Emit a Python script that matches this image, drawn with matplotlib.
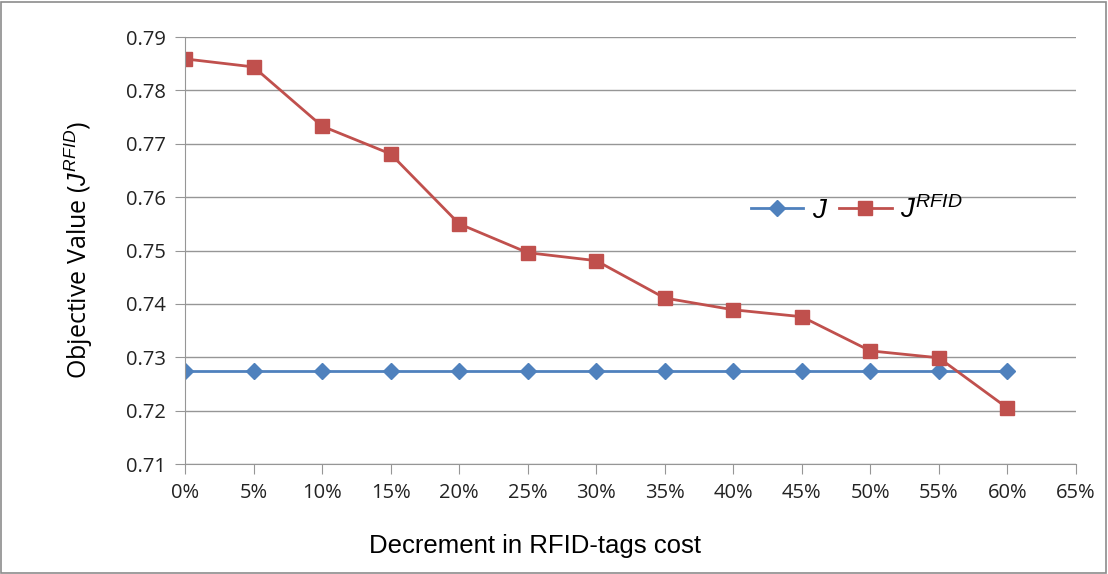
import matplotlib
matplotlib.use("Agg")
import matplotlib.pyplot as plt
from matplotlib.patches import Rectangle
from matplotlib.ticker import FuncFormatter

plt.rcParams["mathtext.fontset"] = "custom"
plt.rcParams["mathtext.it"] = "Liberation Sans:italic"
plt.rcParams["mathtext.rm"] = "Liberation Sans"

decrement = [0, 5, 10, 15, 20, 25, 30, 35, 40, 45, 50, 55, 60]
j_base = [0.7275] * 13
j_rfid = [0.7859, 0.7844, 0.7733, 0.7681, 0.7550, 0.7496, 0.7481,
          0.7411, 0.7389, 0.7376, 0.7312, 0.7299, 0.7205]

x_ticks = list(range(0, 70, 5))
y_ticks = [0.71, 0.72, 0.73, 0.74, 0.75, 0.76, 0.77, 0.78, 0.79]

fig = plt.figure(figsize=(11.08, 5.74), dpi=100)
ax = fig.add_axes([0.167, 0.1916, 0.804, 0.7439])

ax.plot(decrement, j_base, color="#4F81BD", lw=2, marker="D", ms=8,
        label="$J$")
ax.plot(decrement, j_rfid, color="#C0504D", lw=2, marker="s", ms=9.5,
        label="$J^{RFID}$")

ax.set_xlim(0, 65)
ax.set_ylim(0.71, 0.79)
ax.set_xticks(x_ticks)
ax.set_yticks(y_ticks)
ax.xaxis.set_major_formatter(FuncFormatter(lambda v, p: f"{v:.0f}%"))
ax.yaxis.set_major_formatter(FuncFormatter(lambda v, p: f"{v:.2f}"))
ax.grid(axis="y", color="#969696", lw=1)
ax.set_axisbelow(True)
for s in ["top", "right"]:
    ax.spines[s].set_visible(False)
for s in ["left", "bottom"]:
    ax.spines[s].set_color("#969696")
ax.tick_params(colors="#969696", length=7, labelcolor="#222222",
               labelsize=14.5, pad=7)
for lab in ax.get_xticklabels() + ax.get_yticklabels():
    lab.set_family("Open Sans")

ax.set_xlabel("Decrement in RFID-tags cost", family="Liberation Sans",
              fontsize=18.5, labelpad=20)
ax.xaxis.set_label_coords(0.393, -0.165)
ax.set_ylabel("Objective Value ($J^{RFID}$)", family="Open Sans",
              fontsize=18, labelpad=22)

ax.legend(loc="center", bbox_to_anchor=(0.773, 0.635),
          bbox_transform=fig.transFigure, ncol=2, frameon=False,
          fontsize=20, handlelength=1.9, columnspacing=0.4, handletextpad=0.3)

fig.patches.append(Rectangle((0.001, 0.002), 0.997, 0.995, transform=fig.transFigure,
                             fill=False, edgecolor="#8c8c8c", lw=1.2))

fig.savefig("out.png", dpi=100)
